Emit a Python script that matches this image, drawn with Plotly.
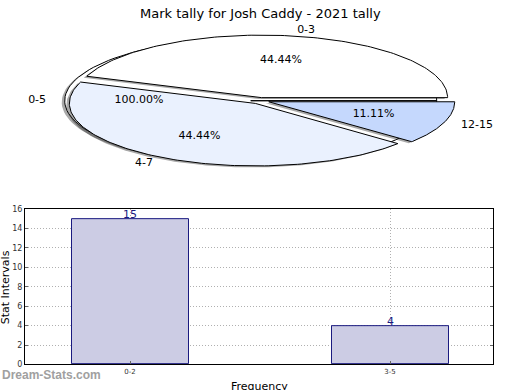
import numpy as np
import plotly.graph_objects as go

# ---- data ----
title_text = "Mark tally for Josh Caddy - 2021 tally"
pie_labels = ["0-3", "4-7", "12-15"]
pie_pct = [44.44, 44.44, 11.11]
full_label = "0-5"
full_pct = 100.00
pie_colors = ["#ffffff", "#eaf1fe", "#c5d8fd"]
full_color = "#ffffff"

bar_cats = ["0-2", "3-5"]
bar_vals = [15, 4]
y_ticks = [0, 2, 4, 6, 8, 10, 12, 14, 16]

# ---- layout constants (page pixel space) ----
W, H = 520, 390
CX, CY, RX, RY = 260, 99, 186, 64
EXPLODE = 0.05
SH_DX, SH_DY = -3, 1.5
FONT = "DejaVu Sans"
NAVY = "#1a1a80"


def px(x):
    return x / W


def py(y):
    return 1 - y / H


fig = go.Figure()


def wedge(a0, a1, dx, dy, n=140):
    t = np.radians(np.linspace(a0, a1, n))
    xs = np.concatenate([[CX + dx], CX + dx + RX * np.cos(t), [CX + dx]])
    ys = np.concatenate([[CY + dy], CY + dy - RY * np.sin(t), [CY + dy]])
    return xs, ys


def add_wedge(a0, a1, color):
    m = np.radians((a0 + a1) / 2)
    dx = EXPLODE * RX * np.cos(m)
    dy = -EXPLODE * RY * np.sin(m)
    sx, sy = wedge(a0, a1, dx + SH_DX, dy + SH_DY)
    fig.add_trace(go.Scatter(x=sx, y=sy, fill="toself", mode="lines",
                             line=dict(color="rgba(0,0,0,0)", width=0),
                             fillcolor="rgba(40,40,40,0.4)", hoverinfo="skip",
                             showlegend=False, xaxis="x", yaxis="y"))
    xs, ys = wedge(a0, a1, dx, dy)
    fig.add_trace(go.Scatter(x=xs, y=ys, fill="toself", mode="lines",
                             line=dict(color="black", width=1), fillcolor=color,
                             hoverinfo="skip", showlegend=False,
                             xaxis="x", yaxis="y"))
    return m, dx, dy


lab_x, lab_y, lab_t, lab_pos = [], [], [], []
pct_x, pct_y, pct_t = [], [], []


def add_labels(m, dx, dy, lab, p):
    lab_x.append(CX + dx + 1.1 * RX * np.cos(m))
    lab_y.append(CY + dy - 1.1 * RY * np.sin(m))
    lab_t.append(lab)
    lab_pos.append("middle left" if np.cos(m) < 0 else "middle right")
    pct_x.append(CX + dx + 0.6 * RX * np.cos(m))
    pct_y.append(CY + dy - 0.6 * RY * np.sin(m))
    pct_t.append(f"{p:.2f}%")


# full slice (0-5)
m, dx, dy = add_wedge(0, 360 * full_pct / 100.0, full_color)
add_labels(m, dx, dy, full_label, full_pct)

start = 0.0
for lab, p, col in zip(pie_labels, pie_pct, pie_colors):
    span = 360.0 * p / sum(pie_pct)
    m, dx, dy = add_wedge(start, start + span, col)
    add_labels(m, dx, dy, lab, p)
    start += span

fig.add_trace(go.Scatter(x=lab_x, y=lab_y, text=lab_t, mode="text",
                         textposition=lab_pos,
                         textfont=dict(family=FONT, size=11, color="black"),
                         hoverinfo="skip", showlegend=False, xaxis="x", yaxis="y"))
fig.add_trace(go.Scatter(x=pct_x, y=pct_y, text=pct_t, mode="text",
                         textposition="middle center",
                         textfont=dict(family=FONT, size=11, color="black"),
                         hoverinfo="skip", showlegend=False, xaxis="x", yaxis="y"))

# ---- bar chart ----
fig.add_trace(go.Bar(x=bar_cats, y=bar_vals, width=0.45,
                     marker=dict(color="#cccce4",
                                 line=dict(color=NAVY, width=1)),
                     showlegend=False, xaxis="x2", yaxis="y2"))
for c, v in zip(bar_cats, bar_vals):
    fig.add_annotation(x=c, y=v, xref="x2", yref="y2", text=str(v),
                       showarrow=False, xanchor="center", yanchor="bottom",
                       yshift=-4, font=dict(family=FONT, size=11, color=NAVY))

fig.update_layout(
    width=W, height=H, margin=dict(l=0, r=0, t=0, b=0),
    paper_bgcolor="white", plot_bgcolor="rgba(0,0,0,0)",
    font=dict(family=FONT, color="#222"),
    xaxis=dict(domain=[0, 1], range=[0, W], visible=False, fixedrange=True),
    yaxis=dict(domain=[0, 1], range=[H, 0], visible=False, fixedrange=True),
    xaxis2=dict(domain=[px(25), px(493)], range=[-0.404, 1.396],
                anchor="y2", showline=True, linecolor="black", linewidth=1,
                mirror=True, ticks="inside", ticklen=3, tickcolor="#666",
                showgrid=True, gridcolor="#b0b0b0", griddash="1px,2px",
                gridwidth=1, layer="above traces",
                tickfont=dict(size=7, color="#333"), fixedrange=True),
    yaxis2=dict(domain=[py(369), py(210)], range=[0, 16],
                anchor="x2", tickvals=y_ticks, showline=True,
                linecolor="black", linewidth=1, mirror="ticks",
                ticks="inside", ticklen=3, tickcolor="#666",
                showgrid=True, gridcolor="#b0b0b0", griddash="1px,2px",
                gridwidth=1, layer="above traces", zeroline=False,
                tickfont=dict(size=8, color="#333"), fixedrange=True),
    bargap=0,
)

fig.add_annotation(text=title_text, x=px(260), y=py(10), xref="paper",
                   yref="paper", showarrow=False, xanchor="center",
                   yanchor="middle", font=dict(family=FONT, size=13, color="black"))
fig.add_annotation(text="Stat Intervals", x=px(5), y=py(290), xref="paper",
                   yref="paper", showarrow=False, textangle=-90,
                   xanchor="center", yanchor="middle",
                   font=dict(family=FONT, size=11, color="black"))
fig.add_annotation(text="Frequency", x=px(259), y=py(383), xref="paper",
                   yref="paper", showarrow=False, xanchor="center",
                   yanchor="top", font=dict(family=FONT, size=11, color="black"))
fig.add_annotation(text="<b>Dream-Stats.com</b>", x=px(0), y=py(380),
                   xref="paper", yref="paper", showarrow=False,
                   xanchor="left", yanchor="middle",
                   font=dict(family="Liberation Sans", size=12, color="#a0a0a0"))

fig.write_html("out.html", config={"displayModeBar": False},
               post_script="document.body.style.margin='0px';"
                           "document.body.style.overflow='hidden';")
